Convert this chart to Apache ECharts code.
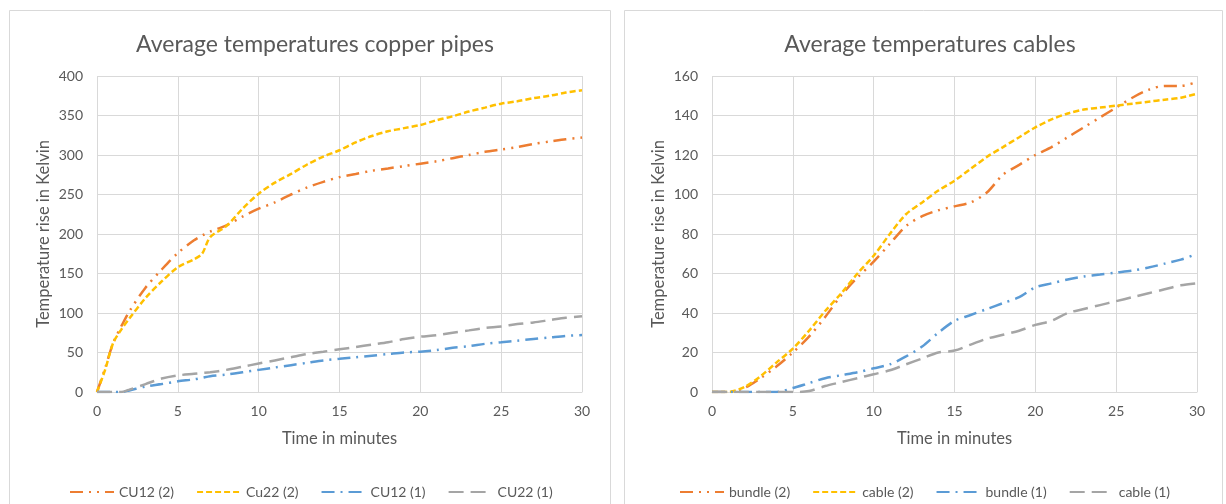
<!DOCTYPE html>
<html>
<head>
<meta charset="utf-8">
<script src="https://cdn.jsdelivr.net/npm/echarts@6/dist/echarts.min.js"></script>
<style>
  html, body { margin: 0; padding: 0; background: #fff; }
  #main { width: 1226px; height: 504px; }
</style>
</head>
<body>
<div id="main"></div>
<script>
// copper pipes, time in minutes
var pipeTimes = [0, 0.5, 1, 1.5, 2, 3, 4, 5, 6, 6.5, 7, 8, 9, 10, 11, 12, 13, 14, 15, 16, 17, 18, 19, 20, 21, 22, 23, 24, 25, 26, 27, 28, 29, 30];
var cu12_2 = [0, 30, 62, 83, 102, 132, 155, 176, 192, 198, 203, 211, 222, 232, 240, 250, 259, 266, 272, 276, 280, 283, 286, 289, 292, 296, 300, 304, 307, 310, 314, 317, 320, 322];
var cu22_2 = [0, 28, 62, 79, 93, 119, 140, 158, 168, 175, 196, 210, 232, 251, 265, 276, 288, 298, 306, 316, 324, 330, 334, 338, 344, 349, 355, 360, 365, 368, 372, 375, 379, 382];
var cu12_1 = [0, 0, 0, 0, 2, 7, 10, 13.5, 16, 18, 20, 22, 25, 28, 31, 34, 37, 40, 42, 44, 46, 48, 50, 51, 53, 56, 58, 61, 63, 65, 67, 69, 71, 72];
var cu22_1 = [0, 0, 0, 0, 3, 10, 17, 21, 23, 24, 25, 28, 32, 36, 40, 44, 48, 51, 54, 57, 60, 63, 67, 70, 72, 75, 78, 81, 83, 86, 88, 91, 94, 96];

// cables, time in minutes
var cableTimes = [0, 1, 2, 3, 4, 5, 6, 7, 8, 9, 10, 11, 12, 13, 14, 15, 16, 17, 18, 19, 20, 21, 22, 23, 24, 25, 26, 27, 28, 29, 30];
var bundle_2 = [0, 0, 2, 7, 13, 20, 28, 38, 49, 58, 66, 75, 84, 89, 92, 94, 96, 101, 110, 115, 120, 124, 129, 134, 139, 144, 149, 153, 155, 155, 157];
var cable_2 = [0, 0, 2.5, 8, 15, 22, 31, 41, 50, 60, 69, 80, 90, 96, 102, 107, 113, 119, 124, 129, 134, 138, 141, 143, 144, 145, 146, 147, 148, 149, 151];
var bundle_1 = [0, 0, 0, 0, 0, 2, 4.5, 7, 8.5, 10, 12, 14, 18, 23, 30, 36, 39, 42, 45, 48, 53, 55, 57, 58.5, 59.5, 60.5, 61.5, 63, 65, 67, 70];
var cable_1 = [0, 0, 0, 0, 0, 0, 0.5, 3, 5, 7, 9, 11, 14, 17, 20, 21, 24, 27, 29, 31, 34, 36, 40, 42, 44, 46, 48, 50, 52, 54, 55];

var xTicks = [0, 5, 10, 15, 20, 25, 30];

var textColor = '#595959';
var gridColor = '#d9d9d9';
var font = 'Lato, "Open Sans", sans-serif';

function pairs(times, vals) {
    var out = [];
    for (var i = 0; i < times.length; i++) {
        out.push([times[i], vals[i]]);
    }
    return out;
}

function line(name, idx, times, vals, color, dash) {
    return {
        name: name,
        type: 'line',
        xAxisIndex: idx,
        yAxisIndex: idx,
        data: pairs(times, vals),
        smooth: 0.3,
        symbol: 'none',
        color: color,
        lineStyle: { width: 2.5, color: color, type: dash, cap: 'butt' }
    };
}

function xAxisFor(idx) {
    return {
        type: 'value', gridIndex: idx, min: xTicks[0], max: xTicks[xTicks.length - 1], interval: 5,
        name: 'Time in minutes', nameLocation: 'middle', nameGap: 38,
        nameTextStyle: { color: textColor, fontSize: 16.5, fontFamily: font },
        axisLine: { lineStyle: { color: gridColor, width: 1 } },
        axisTick: { show: false },
        axisLabel: { color: textColor, fontSize: 14, fontFamily: font, margin: 12 },
        splitLine: { show: true, lineStyle: { color: gridColor, width: 1 } }
    };
}

function yAxisFor(idx, max, step) {
    return {
        type: 'value', gridIndex: idx, min: 0, max: max, interval: step,
        name: 'Temperature rise in Kelvin', nameLocation: 'middle', nameGap: 45,
        nameTextStyle: { color: textColor, fontSize: 16.5, fontFamily: font },
        axisLine: { show: false },
        axisTick: { show: false },
        axisLabel: { color: textColor, fontSize: 14, fontFamily: font, margin: 14 },
        splitLine: { show: true, lineStyle: { color: gridColor, width: 1 } }
    };
}

function legendFor(names, x) {
    return {
        data: names, left: x, top: 480,
        itemWidth: 44, itemHeight: 14, itemGap: 22,
        itemStyle: { opacity: 0 },
        textStyle: { color: textColor, fontSize: 14, fontFamily: font }
    };
}

var orangeDash = [13, 6, 2, 6, 2, 6];
var yellowDash = [6, 3];
var blueDash = [13, 6, 2, 6];
var grayDash = [15, 7];

var myChart = echarts.init(document.getElementById('main'), null, { renderer: 'canvas', width: 1226, height: 504 });

var option = {
    backgroundColor: '#fff',
    animation: false,
    graphic: [
        { type: 'rect', shape: { x: 9.5, y: 10.5, width: 601, height: 500 }, style: { fill: 'none', stroke: gridColor, lineWidth: 1 }, z: 0 },
        { type: 'rect', shape: { x: 624.5, y: 10.5, width: 598, height: 500 }, style: { fill: 'none', stroke: gridColor, lineWidth: 1 }, z: 0 }
    ],
    title: [
        { text: 'Average temperatures copper pipes', left: 310, top: 28, textAlign: 'center',
          textStyle: { color: textColor, fontSize: 23, fontWeight: 'normal', fontFamily: font } },
        { text: 'Average temperatures cables', left: 925, top: 28, textAlign: 'center',
          textStyle: { color: textColor, fontSize: 23, fontWeight: 'normal', fontFamily: font } }
    ],
    legend: [
        legendFor(['CU12 (2)', 'Cu22 (2)', 'CU12 (1)', 'CU22 (1)'], 64),
        legendFor(['bundle (2)', 'cable (2)', 'bundle (1)', 'cable (1)'], 674)
    ],
    grid: [
        { left: 97, top: 76, width: 485, height: 316 },
        { left: 712, top: 76, width: 485, height: 316 }
    ],
    xAxis: [xAxisFor(0), xAxisFor(1)],
    yAxis: [yAxisFor(0, 400, 50), yAxisFor(1, 160, 20)],
    series: [
        line('CU12 (2)', 0, pipeTimes, cu12_2, '#ED7D31', orangeDash),
        line('Cu22 (2)', 0, pipeTimes, cu22_2, '#FFC000', yellowDash),
        line('CU12 (1)', 0, pipeTimes, cu12_1, '#5B9BD5', blueDash),
        line('CU22 (1)', 0, pipeTimes, cu22_1, '#A5A5A5', grayDash),
        line('bundle (2)', 1, cableTimes, bundle_2, '#ED7D31', orangeDash),
        line('cable (2)', 1, cableTimes, cable_2, '#FFC000', yellowDash),
        line('bundle (1)', 1, cableTimes, bundle_1, '#5B9BD5', blueDash),
        line('cable (1)', 1, cableTimes, cable_1, '#A5A5A5', grayDash)
    ]
};

if (option)
    myChart.setOption(option);
</script>
</body>
</html>
